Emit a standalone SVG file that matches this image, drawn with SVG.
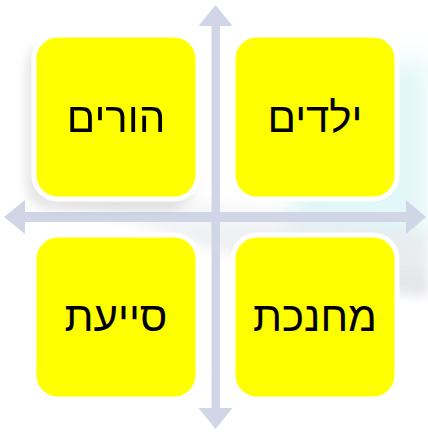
<svg xmlns="http://www.w3.org/2000/svg" width="428" height="432" viewBox="0 0 428 432">
  <defs>
    <style>
      .box { fill: #FFFF00; stroke: #FFFFFF; stroke-width: 5; }
      .lbl { font-family: "Liberation Sans", "DejaVu Sans", sans-serif; font-size: 42px; fill: #000000; text-anchor: middle; }
      .axis { fill: #D0D6E6; }
    </style>
    <filter id="blur12" x="-30%" y="-30%" width="160%" height="160%">
      <feGaussianBlur stdDeviation="12"/>
    </filter>
    <filter id="blur6" x="-30%" y="-30%" width="160%" height="160%">
      <feGaussianBlur stdDeviation="6"/>
    </filter>
    <filter id="shadow" x="-20%" y="-20%" width="140%" height="140%">
      <feDropShadow dx="-6" dy="9" stdDeviation="5" flood-color="#909090" flood-opacity="0.22"/>
    </filter>
    <linearGradient id="swoosh" x1="0" y1="0" x2="0" y2="1">
      <stop offset="0" stop-color="#E6E8EC" stop-opacity="0.3"/>
      <stop offset="0.6" stop-color="#DFE1E5" stop-opacity="0.8"/>
      <stop offset="1" stop-color="#D9DBDF" stop-opacity="1"/>
    </linearGradient>
  </defs>
  <rect x="0" y="0" width="428" height="432" fill="#FFFFFF"/>
  <g id="background">
    <path d="M290 70 L428 60 L428 245 L290 235 Z" fill="#E2F7F8" filter="url(#blur12)"/>
    <path d="M60 195 C180 192 300 212 428 232 L428 296 C350 292 270 265 200 245 C150 230 110 215 60 205 Z" fill="url(#swoosh)" opacity="0.8" filter="url(#blur6)"/>
  </g>
  <g id="connectors">
    <path class="axis" d="M211.5 26 L198.5 26 L215.5 5 L232.5 26 L220 26 L220 408 L232.5 408 L215.5 429 L198.5 408 L211.5 408 Z"/>
    <path class="axis" d="M25 212 L25 200 L4 217 L25 234 L25 222 L406 222 L406 234 L426 217 L406 200 L406 212 Z"/>
  </g>
  <g id="node-horim" filter="url(#shadow)">
    <rect class="box" x="34" y="35" width="164" height="164" rx="24"/>
    <text class="lbl" x="116" y="132">הורים</text>
  </g>
  <g id="node-yeladim">
    <rect class="box" x="233" y="35" width="164" height="164" rx="24"/>
    <text class="lbl" x="315" y="132">ילדים</text>
  </g>
  <g id="node-sayaat">
    <rect class="box" x="34" y="235" width="164" height="164" rx="24"/>
    <text class="lbl" x="116" y="331">סייעת</text>
  </g>
  <g id="node-mechanechet">
    <rect class="box" x="233" y="235" width="164" height="164" rx="24"/>
    <text class="lbl" x="315" y="331">מחנכת</text>
  </g>
</svg>
